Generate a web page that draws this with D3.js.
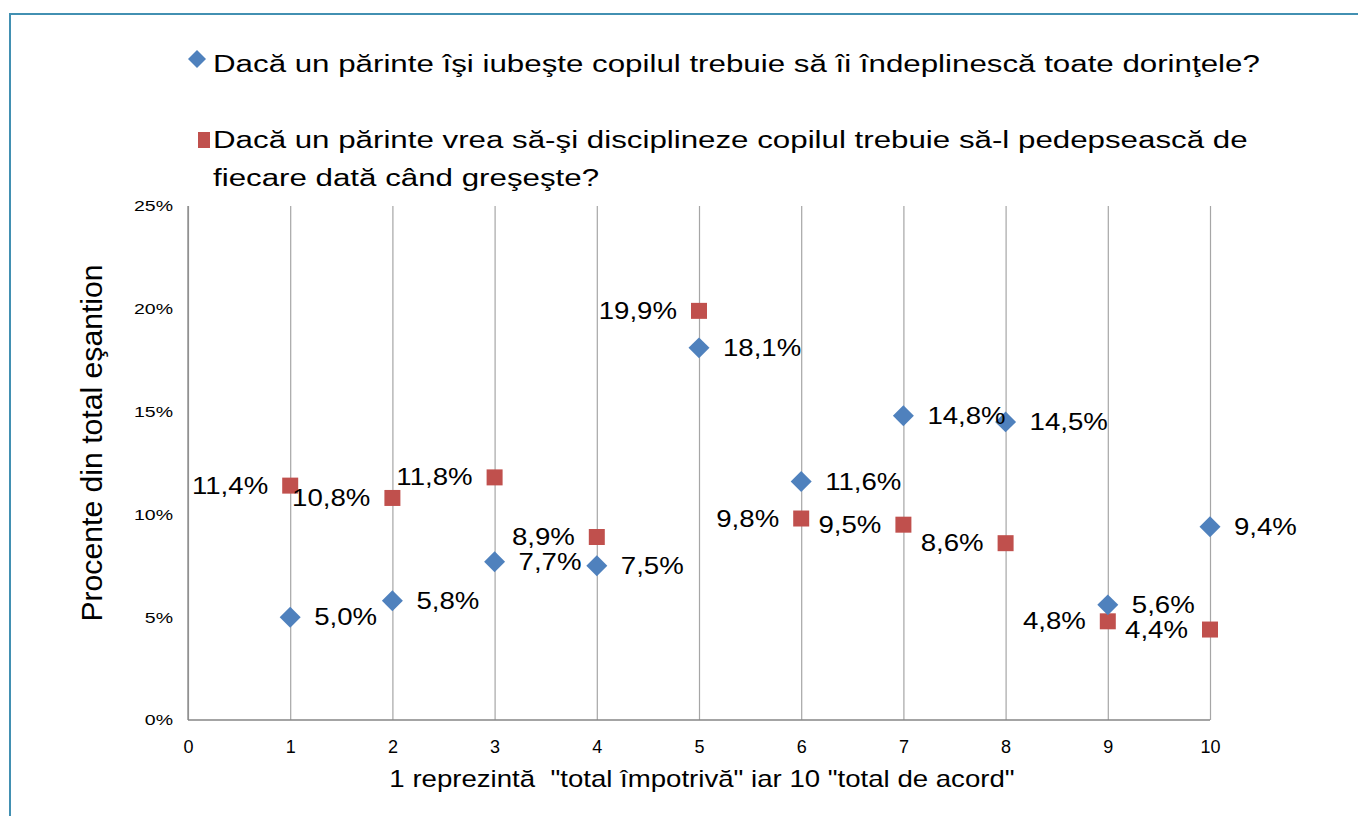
<!DOCTYPE html>
<html>
<head>
<meta charset="utf-8">
<script src="https://cdn.jsdelivr.net/npm/d3@7"></script>
<style>
  body { margin: 0; background: #fff; }
  svg text { font-family: "Liberation Sans", Arial, sans-serif; fill: #000; }
</style>
</head>
<body>
<svg id="chart" width="1358" height="816"></svg>
<script>
// data
const scores = [1, 2, 3, 4, 5, 6, 7, 8, 9, 10];
const iubeste = [5.0, 5.8, 7.7, 7.5, 18.1, 11.6, 14.8, 14.5, 5.6, 9.4];
const pedepseste = [11.4, 10.8, 11.8, 8.9, 19.9, 9.8, 9.5, 8.6, 4.8, 4.4];
const xTicks = [0, 1, 2, 3, 4, 5, 6, 7, 8, 9, 10];
const yTicks = [0, 5, 10, 15, 20, 25];
const legendLines = [
  ['Dacă un părinte îşi iubeşte copilul trebuie să îi îndeplinescă toate dorinţele?'],
  ['Dacă un părinte vrea să-şi disciplineze copilul trebuie să-l pedepsească de', 'fiecare dată când greşeşte?']
];
// label side for each point: 1 = right of marker, -1 = left
const sideIubeste = [1, 1, 1, 1, 1, 1, 1, 1, 1, 1];
const sidePedepseste = [-1, -1, -1, -1, -1, -1, -1, -1, -1, -1];

const BLUE = '#4f81bd';
const RED = '#c0504d';

const svg = d3.select('#chart');

// the original picture has horizontally widened lettering
function stretch(sel, k) {
  sel.each(function () {
    const w = this.getComputedTextLength();
    d3.select(this).attr('textLength', w * k).attr('lengthAdjust', 'spacingAndGlyphs');
  });
}

// frame
svg.append('path')
  .attr('d', 'M10,830 V14 H1370')
  .attr('fill', 'none')
  .attr('stroke', '#4290b2')
  .attr('stroke-width', 2);

const margin = {top: 206, left: 188, right: 148, bottom: 96};
const width = 1358 - margin.left - margin.right;   // 1022
const height = 816 - margin.top - margin.bottom;   // 514

const x = d3.scaleLinear().domain([0, 10]).range([0, width]);
const y = d3.scaleLinear().domain([0, 25]).range([height, 0]);

const g = svg.append('g').attr('transform', `translate(${margin.left},${margin.top})`);

// vertical gridlines + x labels
const xAxis = g.append('g')
  .attr('transform', `translate(0,${height})`)
  .call(d3.axisBottom(x).tickValues(xTicks).tickSize(-height).tickFormat(d3.format('d')));
xAxis.select('.domain').remove();
xAxis.selectAll('line').attr('stroke', '#a6a6a6').attr('stroke-width', 1.2);
xAxis.selectAll('text')
  .attr('y', 33).attr('dy', null)
  .style('font-size', '18px').attr('fill', '#000');

// y labels
const yAxis = g.append('g')
  .call(d3.axisLeft(y).tickValues(yTicks).tickSize(0).tickPadding(15).tickFormat(d => d + '%'));
yAxis.select('.domain').remove();
yAxis.selectAll('text').style('font-size', '15px').attr('fill', '#000').call(stretch, 1.3);

// axis lines
g.append('line').attr('x1', 0).attr('x2', 0).attr('y1', 0).attr('y2', height)
  .attr('stroke', '#868686').attr('stroke-width', 1.3);
g.append('line').attr('x1', 0).attr('x2', width).attr('y1', height).attr('y2', height)
  .attr('stroke', '#868686').attr('stroke-width', 1.3);

const fmt = v => d3.format('.1f')(v).replace('.', ',') + '%';

function drawSeries(values, sides, color, symbolType, size, angle) {
  const sym = d3.symbol().type(symbolType).size(size);
  const pts = scores.map((s, i) => ({s, v: values[i], side: sides[i]}));
  g.append('g').selectAll('path').data(pts).join('path')
    .attr('d', sym)
    .attr('transform', d => `translate(${x(d.s)},${y(d.v)}) rotate(${angle})`)
    .attr('fill', color);
  g.append('g').selectAll('text').data(pts).join('text')
    .attr('x', d => x(d.s) + (d.side > 0 ? 24 : -22))
    .attr('y', d => y(d.v))
    .attr('dy', '0.35em')
    .attr('text-anchor', d => d.side > 0 ? 'start' : 'end')
    .style('font-size', '23px')
    .text(d => fmt(d.v))
    .call(stretch, 1.2);
}

drawSeries(pedepseste, sidePedepseste, RED, d3.symbolSquare, 256, 0);
drawSeries(iubeste, sideIubeste, BLUE, d3.symbolSquare, 220, 45);

// legend
const leg = svg.append('g');
leg.append('path').attr('d', d3.symbol().type(d3.symbolSquare).size(162)())
  .attr('transform', 'translate(197,59) rotate(45)').attr('fill', BLUE);
leg.append('rect').attr('x', 198).attr('y', 132).attr('width', 12).attr('height', 16)
  .attr('fill', RED);

const legendBaselines = [[72], [148, 186]];
legendLines.forEach((lines, i) => {
  lines.forEach((line, j) => {
    leg.append('text')
      .attr('x', 213).attr('y', legendBaselines[i][j])
      .style('font-size', '23px')
      .text(line)
      .call(stretch, 1.36);
  });
});

// axis titles
svg.append('text')
  .attr('transform', 'translate(102,443) rotate(-90)')
  .attr('text-anchor', 'middle')
  .style('font-size', '29px')
  .text('Procente din total eşantion')
  .call(stretch, 1.04);

svg.append('text')
  .attr('x', 702).attr('y', 787)
  .attr('text-anchor', 'middle')
  .style('font-size', '24px')
  .style('white-space', 'pre')
  .text('1 reprezintă  "total împotrivă" iar 10 "total de acord"')
  .call(stretch, 1.15);
</script>
</body>
</html>
